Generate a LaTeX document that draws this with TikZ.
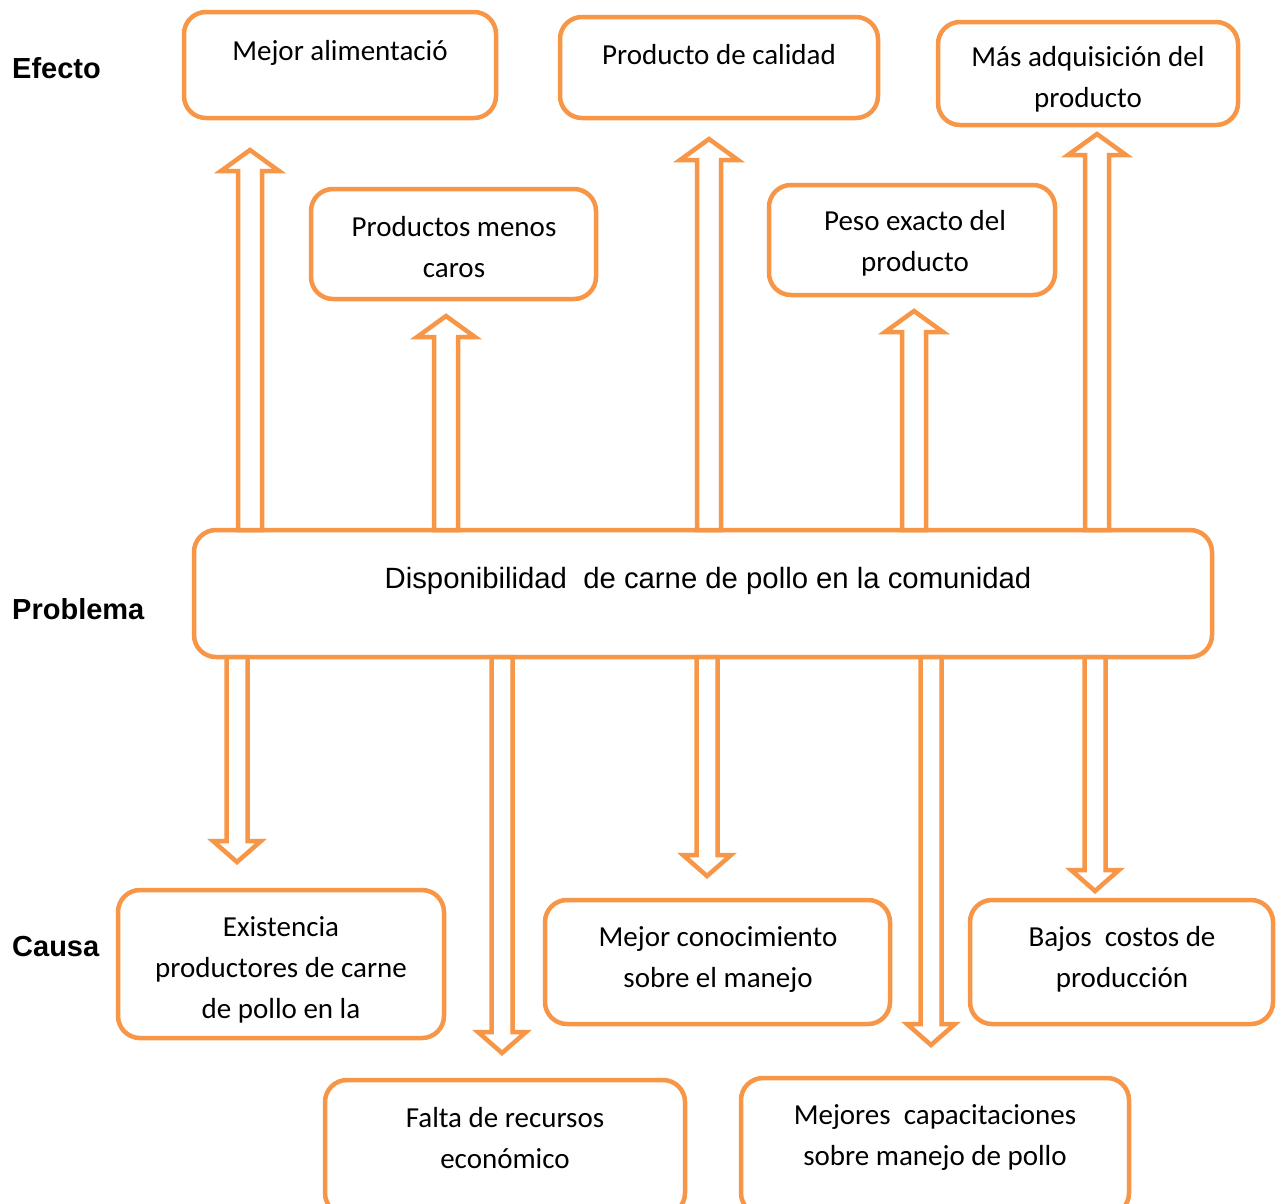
\documentclass[tikz,border=0pt]{standalone}
\usepackage{fontspec}
\setmainfont{Carlito}
\newfontfamily\arialfont{Liberation Sans}
\usepackage{xcolor}
\definecolor{naranja}{HTML}{F79646}
\usetikzlibrary{calc,positioning}
\tikzset{
	caja/.style={draw=naranja, line width=4.5pt, rounded corners=22pt, fill=white, outer sep=0pt, inner sep=0pt},
	texto/.style={align=center, inner sep=0pt, font=\fontsize{29}{41}\selectfont},
	etiqueta/.style={anchor=west, inner sep=0pt, font=\arialfont\bfseries\fontsize{29}{35}\selectfont},
	flecha/.style={draw=naranja, line width=4.5pt, fill=white, line join=miter}
}
\newcommand{\flechahueca}[4]{%
	\draw[flecha] let \p1=(#1), \p2=(#2), \n1={sign(\y2-\y1)} in
		(\x1-#3,\y1) -- (\x1-#3,\y2-\n1*21pt) -- (\x1-#4,\y2-\n1*21pt) -- (\x1,\y2)
		-- (\x1+#4,\y2-\n1*21pt) -- (\x1+#3,\y2-\n1*21pt) -- (\x1+#3,\y1) -- cycle;
}

\begin{document}
\begin{tikzpicture}[x=1pt, y=-1pt]
	\useasboundingbox (0,0) rectangle (1279,1203);
	\node[etiqueta] (efecto) at (12,68) {Efecto};
	\node[etiqueta] (problema) at (12,609) {Problema};
	\node[etiqueta] (causa) at (12,946) {Causa};

	\node[caja, minimum width=1018pt, minimum height=127pt] (prob) at (703,593.5) {};
	\node[texto, font=\arialfont\fontsize{29.3}{35}\selectfont] (tprob) at (708,580.5) {Disponibilidad\ \ de carne de pollo en la comunidad};

	\coordinate (e1) at (250,150);
	\coordinate (e2) at (446,316);
	\coordinate (e3) at (709,139);
	\coordinate (e4) at (914,311);
	\coordinate (e5) at (1097,134);
	\coordinate (c1) at (237,862);
	\coordinate (c2) at (502,1053);
	\coordinate (c3) at (707,876);
	\coordinate (c4) at (931,1045);
	\coordinate (c5) at (1095,891);
	\foreach \e in {e1,e2,e3,e4,e5}
		\flechahueca{prob.north -| \e}{\e}{12pt}{29pt};
	\foreach \c in {c1,c2,c3,c4,c5}
		\flechahueca{prob.south -| \c}{\c}{10.5pt}{24pt};

	\node[caja, minimum width=312pt, minimum height=106pt] (mejor) at (340,65) {};
	\node[texto] (tmejor) at (340,52.5) {Mejor alimentació};
	\node[caja, minimum width=318pt, minimum height=101pt] (calidad) at (719,67.5) {};
	\node[texto] (tcalidad) at (719,55) {Producto de calidad};
	\node[caja, minimum width=300pt, minimum height=103pt] (adquis) at (1088,73.5) {};
	\node[texto] (tadquis) at (1088,79) {Más adquisición del\\producto};
	\node[caja, minimum width=285pt, minimum height=110pt] (caros) at (453.5,244) {};
	\node[texto] (tcaros) at (454,247) {Productos menos\\caros};
	\node[caja, minimum width=286pt, minimum height=110pt] (peso) at (912,240) {};
	\node[texto] (tpeso) at (915,243) {Peso exacto del\\producto};

	\node[caja, minimum width=326pt, minimum height=148pt] (exist) at (281,964) {};
	\node[texto] (texist) at (281,970) {Existencia\\productores de carne\\de pollo en la};
	\node[caja, minimum width=345pt, minimum height=124pt] (conoc) at (717.5,962) {};
	\node[texto] (tconoc) at (718,959) {Mejor conocimiento\\sobre el manejo};
	\node[caja, minimum width=303pt, minimum height=124pt] (bajos) at (1121.5,962) {};
	\node[texto] (tbajos) at (1122,959) {Bajos\ \ costos de\\producción};
	\node[caja, minimum width=360pt, minimum height=135pt] (falta) at (505,1147.5) {};
	\node[texto] (tfalta) at (505,1138) {Falta de recursos\\económico};
	\node[caja, minimum width=388pt, minimum height=137pt] (capac) at (935,1146.5) {};
	\node[texto] (tcapac) at (935,1137) {Mejores\ \ capacitaciones\\sobre manejo de pollo};
\end{tikzpicture}
\end{document}
